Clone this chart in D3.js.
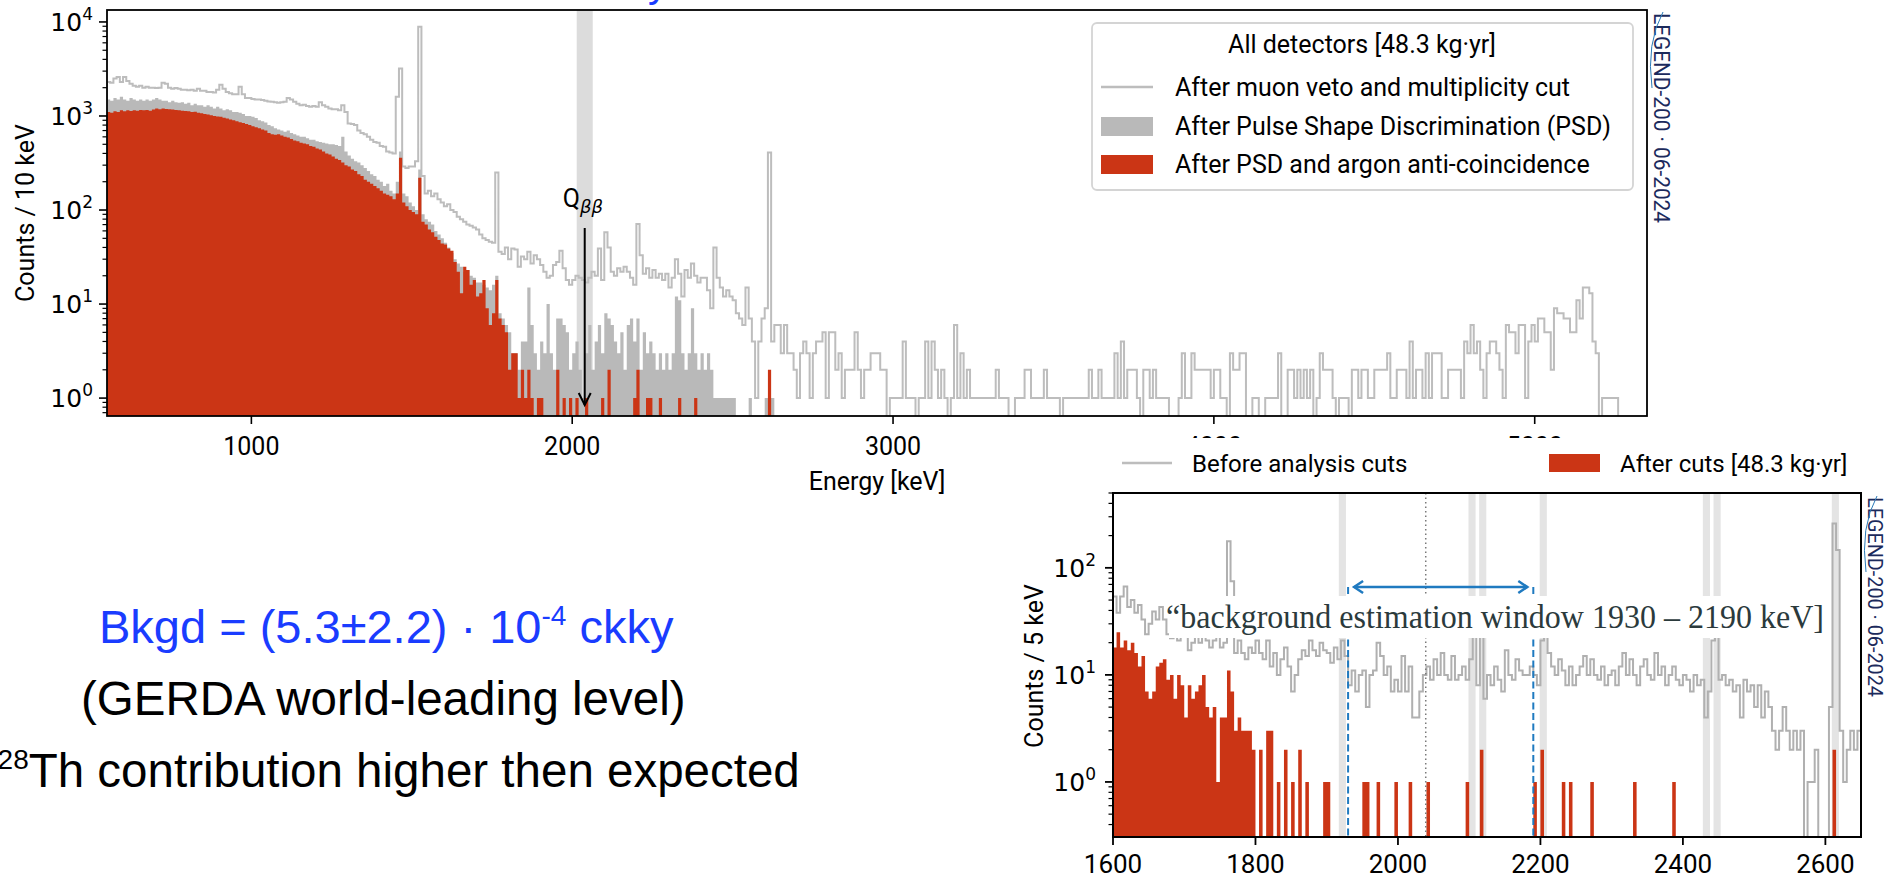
<!DOCTYPE html>
<html><head><meta charset="utf-8">
<script src="https://cdn.jsdelivr.net/npm/d3@7"></script>
<style>body{margin:0;background:#fff;overflow:hidden}svg{display:block}</style>
</head><body>
<svg id="c" width="1900" height="876"></svg>
<script>
// ---------------- DATA ----------------
// Top chart: counts per 10 keV, bins starting at 550 keV
const topBinStart = 550, topBinWidth = 10;
const muonVeto = [
2300,2250,2500,2600,2300,2600,2350,2200,2100,2050,
2100,2000,2050,2000,2000,1980,2000,2250,2200,2000,
1950,1980,1950,1900,1900,1880,1900,1850,1950,1850,
1850,1800,1800,1780,1900,2150,1950,1800,1750,1700,
1700,2050,1700,1550,1550,1520,1500,1500,1480,1450,
1430,1420,1400,1380,1400,1420,1550,1500,1420,1350,
1300,1320,1280,1250,1280,1250,1400,1300,1250,1200,
1180,1180,1150,1300,1100,830,820,800,700,660,
640,600,560,530,520,480,470,420,410,400,
1600,3200,290,280,290,290,330,8900,230,150,
160,140,150,130,120,110,115,100,95,85,
80,75,70,68,65,62,55,50,48,46,
45,250,36,34,40,30,39,38,25,32,
30,36,27,33,30,26,22,19,20,26,
28,37,24,18,16,18,20,19,18,17,
19,22,20,39,18,58,40,22,20,24,
22,25,22,19,16,71,33,21,24,19,
23,19,21,18,21,15,19,30,21,12,
23,19,27,20,17,19,19,14,9,40,
19,15,12,14,12,11,8,7,6,15,
7,4,1,4,7,9,410,4,6,6,
3,6,3,3,2,1,3,4,3,1,
3,4,4,5,1,5,5,2,3,1,
2,2,2,5,2,1,2,2,3,3,
3,2,2,0,1,1,1,1,4,1,
1,1,0,1,1,4,1,4,2,1,
2,1,0,1,6,1,3,1,2,1,
1,1,1,1,1,1,1,2,1,1,
1,0,0,1,1,1,2,2,1,1,
1,1,2,1,1,1,1,0,1,1,
1,1,1,1,1,1,2,1,1,2,
1,1,1,1,3,1,4,1,2,2,
2,1,0,2,2,1,2,1,1,1,
1,0,0,0,1,3,1,1,3,2,
2,2,2,2,1,2,2,1,1,0,
3,2,2,3,3,0,0,1,1,0,
0,1,1,1,1,3,0,0,2,2,
1,2,1,2,1,2,0,1,3,2,
2,2,1,0,1,1,1,0,2,2,
1,2,2,1,1,2,2,2,2,3,
1,1,2,2,2,1,4,1,2,2,
1,3,1,3,3,3,1,1,2,2,
2,2,1,4,3,6,3,4,2,1,
3,4,4,3,2,1,6,5,5,3,
6,6,1,4,6,4,7,7,5,5,
2,9,8,8,7,7,5,5,11,7,
15,15,13,4,3,0,1,1,1,1,
1];
const psd = [
1500,1450,1550,1500,1600,1500,1450,1550,1500,1450,
1500,1450,1500,1450,1500,1550,1500,1450,1450,1400,
1450,1400,1380,1400,1350,1380,1300,1350,1300,1300,
1250,1300,1250,1200,1250,1200,1150,1180,1150,1100,
1100,1080,1050,1000,1000,980,950,900,880,850,
800,780,740,720,700,680,700,660,640,620,
600,600,580,560,560,540,530,520,510,500,
500,490,480,600,420,380,350,330,320,300,
280,260,240,230,210,200,180,190,160,150,
200,420,150,140,120,110,100,270,90,80,
75,70,60,55,50,45,40,35,30,27,
25,22,23,20,19,17,17,16,15,14,
16,20,8,7,6,5,3,3,2,4,
4,15,6,3,2,4,3,10,3,2,
7,7,6,5,2,3,4,2,1,3,
6,2,4,6,3,8,7,6,4,3,
5,2,6,7,4,7,2,5,3,4,
3,2,3,2,3,2,3,12,11,3,
2,3,9,3,2,3,2,3,2,1,
1,1,1,1,1,1,0,0,0,0,
1,0,0,0,0,1,1,1];
const argonAC = [
1100,1080,1120,1100,1150,1120,1150,1130,1150,1140,
1160,1150,1160,1140,1170,1200,1180,1200,1190,1180,
1170,1160,1150,1140,1130,1120,1100,1110,1080,1070,
1050,1040,1020,1000,990,980,960,940,920,900,
880,860,840,820,800,780,760,740,720,700,
660,640,630,640,620,600,590,570,550,540,
520,510,500,480,470,450,440,420,400,390,
370,350,340,320,300,290,270,260,240,230,
210,200,190,180,170,160,150,145,140,130,
150,360,120,110,100,95,90,220,75,70,
62,58,52,48,44,43,39,37,28,22,
13,25,23,16,18,12,13,18,9,6,
8,18,7,6,5,2,3,3,1,2,
1,2,1,0,1,1,0,0,0,0,
2,0,1,0,1,0,1,0,0,1,
0,0,0,0,1,0,2,0,0,0,
0,0,0,0,1,2,0,0,1,1,
0,0,1,0,0,0,0,0,1,0,
0,0,0,1,0,0,0,0,0,0,
0,0,0,0,0,0,0,0,0,0,
0,0,0,0,0,0,2];
const topXTicks = [1000,2000,3000,4000,5000];
const topYExps = [0,1,2,3,4];
const qbbBand = [2014,2064];
const qbb = 2039;
const topLegendTitle = "All detectors [48.3 kg·yr]";
const topLegendLabels = ["After muon veto and multiplicity cut","After Pulse Shape Discrimination (PSD)","After PSD and argon anti-coincidence"];

// Bottom chart: counts per 5 keV, bins starting at 1600 keV
const botBinStart = 1600, botBinWidth = 5;
const beforeCuts = [
54,38,54,67,43,50,38,45,33,24,
30,39,33,43,33,24,22,24,21,23,
23,17,20,24,20,24,21,18,21,23,
18,20,177,75,16,21,16,14,18,16,
21,16,14,21,12,16,10,14,18,12,
7,10,14,17,15,21,17,15,20,17,
16,13,18,14,21,15,8,11,7,10,
11,5,10,11,20,15,10,12,7,9,
7,15,7,12,4,4,7,10,12,9,
14,10,16,10,9,15,9,10,12,9,
14,28,8,24,6,10,8,12,9,7,
17,10,9,14,11,10,10,12,10,8,
21,24,16,12,10,14,11,8,12,8,
10,12,15,10,14,10,9,12,8,10,
11,8,12,16,10,14,10,8,12,14,
10,9,16,10,12,8,10,12,9,8,
10,9,7,10,8,9,4,7,21,26,
9,10,8,9,7,8,4,9,7,8,
5,8,4,7,5,3,2,3,5,3,
2,3,2,3,0,1,1,2,0,0,
0,5,260,147,3,1,2,3,2,3];
const afterCuts = [
18,25,18,21,17,20,16,12,15,7,
6,7,12,13,14,9,10,6,10,8,
4,8,6,7,8,10,5,4,5,1,
4,4,11,7,3,4,3,3,3,2,
0,2,0,3,3,0,1,0,2,0,
1,0,2,0,1,0,0,0,0,1,
1,0,0,0,0,0,0,0,0,0,
1,1,0,0,1,0,0,0,0,1,
0,0,0,1,0,0,0,0,1,0,
0,0,0,0,0,0,0,0,0,1,
0,0,0,2,0,0,0,0,0,0,
0,0,0,0,0,0,0,0,1,0,
2,0,0,0,0,0,1,0,1,0,
0,0,0,0,1,0,0,0,0,0,
0,0,0,0,0,0,1,0,0,0,
0,0,0,0,0,0,0,1,0,0,
0,0,0,0,0,0,0,0,0,0,
0,0,0,0,0,0,0,0,0,0,
0,0,0,0,0,0,0,0,0,0,
0,0,0,0,0,0,0,0,0,0,
0,0,2,0,0,0,0,0,0,0];
const botXTicks = [1600,1800,2000,2200,2400,2600];
const botYExps = [0,1,2];
const botBands = [[1917,1927],[2099,2109],[2114,2124],[2199,2209],[2428,2438],[2443,2453],[2609,2619]];
const bkgWindow = [1930,2190];
const botLegendLabels = ["Before analysis cuts","After cuts [48.3 kg·yr]"];

// ---------------- DRAW ----------------
const svg = d3.select('#c');
const RED = '#cb3515', PSDG = '#b9b9b9', LINEG = '#bdbdbd';
const ROBOTO = 'Roboto, "Liberation Sans", sans-serif';
const DEJA = '"DejaVu Sans", sans-serif';
const HELV = '"Liberation Sans", Arial, sans-serif';

function steps(arr, start, w){
  const pts = [[start, 0]];
  arr.forEach((v,i)=>{ pts.push([start+i*w, v]); pts.push([start+(i+1)*w, v]); });
  pts.push([start+arr.length*w, 0]);
  return pts;
}

// ----- TOP CHART -----
const T = {l:107, r:1647, t:10, b:416};
const tx = d3.scaleLinear().domain([550,5350]).range([T.l,T.r]);
const ty = d3.scaleLog().domain([0.645,13400]).range([T.b,T.t]);
const defs = svg.append('defs');
defs.append('clipPath').attr('id','clipT').append('rect')
  .attr('x',T.l).attr('y',T.t).attr('width',T.r-T.l).attr('height',T.b-T.t);

// partial blue title descender at top
svg.append('text').attr('x',648).attr('y',-3).attr('font-family',HELV).attr('font-size',40)
  .attr('fill','#1a3cff').text('y');

const gT = svg.append('g').attr('clip-path','url(#clipT)');
gT.append('rect').attr('x',tx(qbbBand[0])).attr('width',tx(qbbBand[1])-tx(qbbBand[0]))
  .attr('y',T.t).attr('height',T.b-T.t).attr('fill','#dcdcdc');
gT.append('path').datum(steps(psd,topBinStart,topBinWidth))
  .attr('d',d3.area().x(d=>tx(d[0])).y0(T.b).y1(d=>d[1]>0?ty(d[1]):T.b))
  .attr('fill',PSDG);
gT.append('path').datum(steps(muonVeto,topBinStart,topBinWidth))
  .attr('d',d3.line().x(d=>tx(d[0])).y(d=>d[1]>0?ty(d[1]):T.b+10))
  .attr('fill','none').attr('stroke',LINEG).attr('stroke-width',2);
gT.append('path').datum(steps(argonAC,topBinStart,topBinWidth))
  .attr('d',d3.area().x(d=>tx(d[0])).y0(T.b).y1(d=>d[1]>0?ty(d[1]):T.b))
  .attr('fill',RED);

// Qbb arrow + label
const qx = tx(qbb);
svg.append('line').attr('x1',qx).attr('x2',qx).attr('y1',228).attr('y2',405)
  .attr('stroke','#000').attr('stroke-width',2);
svg.append('path').attr('d',`M${qx-6},393 L${qx},405 L${qx+6},393`)
  .attr('fill','none').attr('stroke','#000').attr('stroke-width',2);
const ql = svg.append('text').attr('x',qx-22).attr('y',207).attr('font-family',ROBOTO).attr('font-size',25).attr('fill','#000');
ql.append('tspan').text('Q');
ql.append('tspan').attr('dy',6).attr('font-family',DEJA).attr('font-style','italic').attr('font-size',18).text('ββ');

// frame
svg.append('rect').attr('x',T.l).attr('y',T.t).attr('width',T.r-T.l).attr('height',T.b-T.t)
  .attr('fill','none').attr('stroke','#000').attr('stroke-width',1.8);

// x ticks
topXTicks.forEach(t=>{
  svg.append('line').attr('x1',tx(t)).attr('x2',tx(t)).attr('y1',T.b).attr('y2',T.b+8).attr('stroke','#000').attr('stroke-width',1.6);
  svg.append('text').attr('x',tx(t)).attr('y',455).attr('text-anchor','middle')
    .attr('font-family',ROBOTO).attr('font-size',25).text(t);
});
svg.append('text').attr('x',877).attr('y',490).attr('text-anchor','middle')
  .attr('font-family',ROBOTO).attr('font-size',25).text('Energy [keV]');

// y ticks
topYExps.forEach(e=>{
  const y = ty(Math.pow(10,e));
  svg.append('line').attr('x1',T.l-8).attr('x2',T.l).attr('y1',y).attr('y2',y).attr('stroke','#000').attr('stroke-width',1.6);
  const lt = svg.append('text').attr('x',T.l-14).attr('y',y+9).attr('text-anchor','end')
    .attr('font-family',DEJA).attr('font-size',25);
  lt.append('tspan').text('10');
  lt.append('tspan').attr('dy',-11).attr('font-size',17).text(e);
});
for(let e=-1;e<=4;e++) for(let m=2;m<=9;m++){
  const v = m*Math.pow(10,e);
  if(v<ty.domain()[0]||v>ty.domain()[1]) continue;
  svg.append('line').attr('x1',T.l-4.5).attr('x2',T.l).attr('y1',ty(v)).attr('y2',ty(v)).attr('stroke','#000').attr('stroke-width',1.2);
}
svg.append('text').attr('transform','translate(34,213) rotate(-90)').attr('text-anchor','middle')
  .attr('font-family',ROBOTO).attr('font-size',25).text('Counts / 10 keV');

// legend
const lg = svg.append('g');
lg.append('rect').attr('x',1092).attr('y',23).attr('width',541).attr('height',167).attr('rx',5)
  .attr('fill','#fff').attr('fill-opacity',0.85).attr('stroke','#d4d4d4').attr('stroke-width',1.8);
lg.append('text').attr('x',1362).attr('y',53).attr('text-anchor','middle').attr('font-family',ROBOTO).attr('font-size',25).text(topLegendTitle);
lg.append('line').attr('x1',1101).attr('x2',1153).attr('y1',87).attr('y2',87).attr('stroke',LINEG).attr('stroke-width',2.5);
lg.append('rect').attr('x',1101).attr('y',117).attr('width',52).attr('height',19).attr('fill',PSDG);
lg.append('rect').attr('x',1101).attr('y',155).attr('width',52).attr('height',19).attr('fill',RED);
topLegendLabels.forEach((s,i)=>{
  lg.append('text').attr('x',1175).attr('y',96+i*38.5).attr('font-family',ROBOTO).attr('font-size',25).text(s);
});

// vertical watermark
function watermark(x,y,len,size){
  svg.append('text').attr('transform',`translate(${x},${y}) rotate(90)`)
    .attr('font-family',ROBOTO).attr('font-size',size).attr('fill','#1b2a5c')
    .attr('textLength',len).attr('lengthAdjust','spacingAndGlyphs').text('LEGEND-200 · 06-2024');
  svg.append('path').attr('d',`M${x+9},${y-1} Q${x-8},${y+30} ${x-2},${y+75}`)
    .attr('fill','none').attr('stroke','#2a7ab8').attr('stroke-width',1);
}
watermark(1654,13,210,22);

// ----- WHITE COVER (pasted bottom figure) -----
svg.append('rect').attr('x',1000).attr('y',438).attr('width',900).attr('height',438).attr('fill','#fff');

// ----- BOTTOM CHART -----
const B = {l:1113, r:1861, t:493, b:837};
const bx = d3.scaleLinear().domain([1600,2650]).range([B.l,B.r]);
const by = d3.scaleLog().domain([0.306,500]).range([B.b,B.t]);
defs.append('clipPath').attr('id','clipB').append('rect')
  .attr('x',B.l).attr('y',B.t).attr('width',B.r-B.l).attr('height',B.b-B.t);
const gB = svg.append('g').attr('clip-path','url(#clipB)');
botBands.forEach(b=>{
  gB.append('rect').attr('x',bx(b[0])).attr('width',bx(b[1])-bx(b[0])).attr('y',B.t).attr('height',B.b-B.t).attr('fill','#e4e4e4');
});
gB.append('path').datum(steps(beforeCuts,botBinStart,botBinWidth))
  .attr('d',d3.line().x(d=>bx(d[0])).y(d=>d[1]>0?by(d[1]):B.b+10))
  .attr('fill','none').attr('stroke','#b0b0b0').attr('stroke-width',2);
gB.append('path').datum(steps(afterCuts,botBinStart,botBinWidth))
  .attr('d',d3.area().x(d=>bx(d[0])).y0(B.b).y1(d=>d[1]>0?by(d[1]):B.b))
  .attr('fill',RED);
gB.append('line').attr('x1',bx(qbb)).attr('x2',bx(qbb)).attr('y1',B.t).attr('y2',B.b)
  .attr('stroke','#7a7a7a').attr('stroke-width',1.5).attr('stroke-dasharray','1.5,3');
bkgWindow.forEach(e=>{
  gB.append('line').attr('x1',bx(e)).attr('x2',bx(e)).attr('y1',587).attr('y2',B.b)
    .attr('stroke','#1f7ac0').attr('stroke-width',2).attr('stroke-dasharray','7,3.5');
});
// double arrow
const ax1 = bx(bkgWindow[0])+6, ax2 = bx(bkgWindow[1])-6, ay = 587;
svg.append('line').attr('x1',ax1).attr('x2',ax2).attr('y1',ay).attr('y2',ay).attr('stroke','#1f7ac0').attr('stroke-width',2.5);
svg.append('path').attr('d',`M${ax1+9},${ay-6} L${ax1},${ay} L${ax1+9},${ay+6} M${ax2-9},${ay-6} L${ax2},${ay} L${ax2-9},${ay+6}`)
  .attr('fill','none').attr('stroke','#1f7ac0').attr('stroke-width',2.5);
// annotation box
svg.append('rect').attr('x',1169).attr('y',596).attr('width',658).attr('height',42).attr('fill','#fff');
svg.append('text').attr('x',1166).attr('y',628).attr('font-family','"Liberation Serif", "DejaVu Serif", serif')
  .attr('font-size',34).attr('fill','#2b3a3c').attr('textLength',658).attr('lengthAdjust','spacingAndGlyphs')
  .text('“background estimation window 1930 – 2190 keV]');
// frame
svg.append('rect').attr('x',B.l).attr('y',B.t).attr('width',B.r-B.l).attr('height',B.b-B.t)
  .attr('fill','none').attr('stroke','#000').attr('stroke-width',2);
botXTicks.forEach(t=>{
  svg.append('line').attr('x1',bx(t)).attr('x2',bx(t)).attr('y1',B.b).attr('y2',B.b+8).attr('stroke','#000').attr('stroke-width',1.8);
  svg.append('text').attr('x',bx(t)).attr('y',873).attr('text-anchor','middle')
    .attr('font-family',ROBOTO).attr('font-size',26).text(t);
});
botYExps.forEach(e=>{
  const y = by(Math.pow(10,e));
  svg.append('line').attr('x1',B.l-8).attr('x2',B.l).attr('y1',y).attr('y2',y).attr('stroke','#000').attr('stroke-width',1.8);
  const lt = svg.append('text').attr('x',B.l-17).attr('y',y+9).attr('text-anchor','end')
    .attr('font-family',DEJA).attr('font-size',25);
  lt.append('tspan').text('10');
  lt.append('tspan').attr('dy',-11).attr('font-size',17).text(e);
});
for(let e=-1;e<=2;e++) for(let m=2;m<=9;m++){
  const v = m*Math.pow(10,e);
  if(v<by.domain()[0]||v>by.domain()[1]) continue;
  svg.append('line').attr('x1',B.l-4.5).attr('x2',B.l).attr('y1',by(v)).attr('y2',by(v)).attr('stroke','#000').attr('stroke-width',1.2);
}
svg.append('text').attr('transform','translate(1043,666) rotate(-90)').attr('text-anchor','middle')
  .attr('font-family',ROBOTO).attr('font-size',25).text('Counts / 5 keV');
// bottom legend
svg.append('line').attr('x1',1122).attr('x2',1172).attr('y1',463).attr('y2',463).attr('stroke',LINEG).attr('stroke-width',2.5);
svg.append('text').attr('x',1192).attr('y',472).attr('font-family',ROBOTO).attr('font-size',24).text(botLegendLabels[0]);
svg.append('rect').attr('x',1549).attr('y',454).attr('width',51).attr('height',18).attr('fill',RED);
svg.append('text').attr('x',1620).attr('y',472).attr('font-family',ROBOTO).attr('font-size',24).text(botLegendLabels[1]);
watermark(1868,497,200,21);

// ----- SLIDE TEXT -----
const t1 = svg.append('text').attr('x',99).attr('y',643).attr('font-family',HELV).attr('font-size',47).attr('fill','#1a3cff');
t1.append('tspan').text('Bkgd = (5.3±2.2) · 10');
t1.append('tspan').attr('dy',-18).attr('font-size',28).text('-4');
t1.append('tspan').attr('dy',18).text(' ckky');
svg.append('text').attr('x',81).attr('y',715).attr('font-family',HELV).attr('font-size',47.5).attr('fill','#000')
  .text('(GERDA world-leading level)');
const t3 = svg.append('text').attr('x',-18).attr('y',787).attr('font-family',HELV).attr('font-size',47.5).attr('fill','#000');
t3.append('tspan').attr('font-size',28).attr('dy',-18).text('228');
t3.append('tspan').attr('dy',18).text('Th contribution higher then expected');
</script>
</body></html>
